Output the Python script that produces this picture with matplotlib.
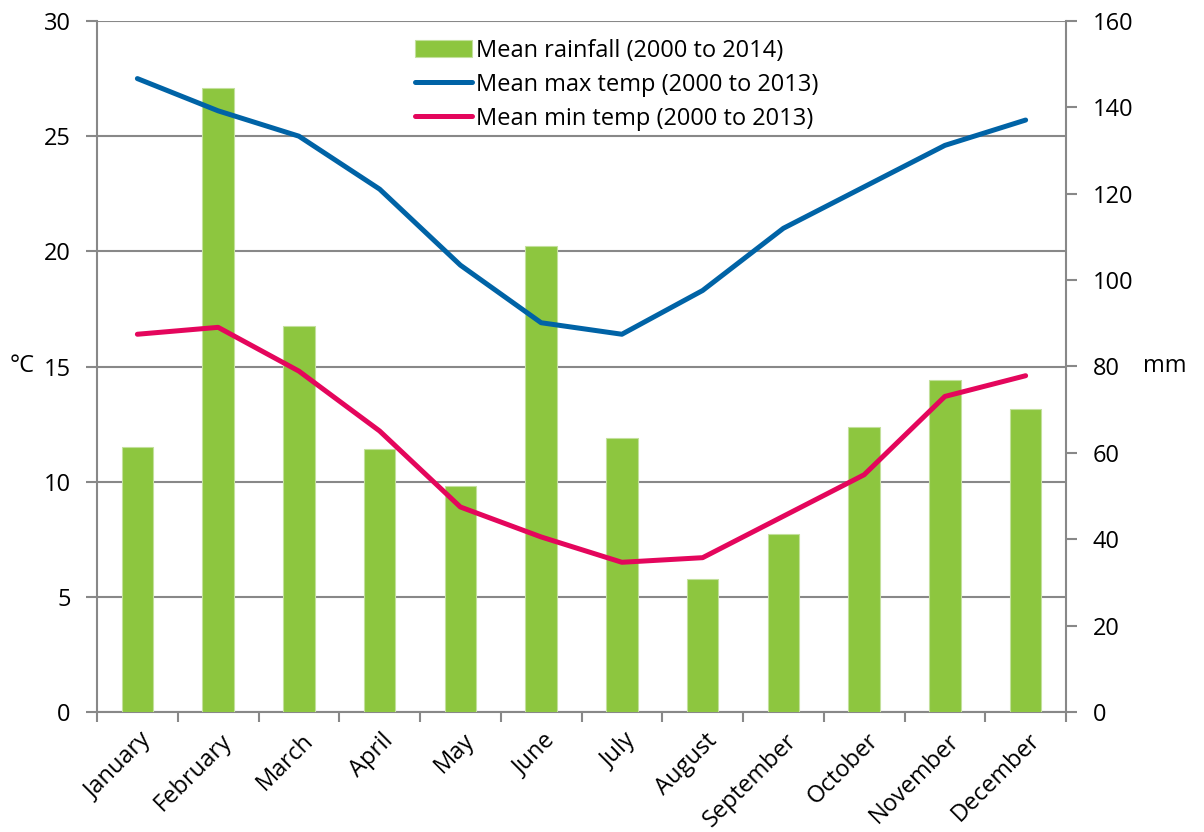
import matplotlib

matplotlib.use("Agg")

import matplotlib.pyplot as plt
import matplotlib.transforms as mtransforms

plt.rcParams["font.family"] = ["Open Sans", "DejaVu Sans"]

months = [
    "January", "February", "March", "April", "May", "June",
    "July", "August", "September", "October", "November", "December",
]
rainfall_mm = [61.3, 144.6, 89.3, 60.9, 52.4, 107.8, 63.5, 30.8, 41.2, 66.1, 76.9, 70.1]
max_temp_c = [27.5, 26.1, 25.0, 22.7, 19.4, 16.9, 16.4, 18.3, 21.0, 22.8, 24.6, 25.7]
min_temp_c = [16.4, 16.7, 14.8, 12.2, 8.9, 7.6, 6.5, 6.7, 8.5, 10.3, 13.7, 14.6]

GREEN = "#8DC63F"
BLUE = "#0063A6"
PINK = "#E4065C"
GREY = "#888888"

fig = plt.figure(figsize=(12.04, 8.32), dpi=100)
rect = [97 / 1204, 120 / 832, 969 / 1204, 691 / 832]

# bottom layer: temperature scale + gridlines
ax = fig.add_axes(rect)
# middle layer: rainfall bars on the mm scale
axr = ax.twinx()
# top layer: temperature lines
axt = ax.twinx()

x = list(range(len(months)))

bars = axr.bar(x, rainfall_mm, width=0.39, color=GREEN, edgecolor="#C3E09C", linewidth=0.8,
               label="Mean rainfall (2000 to 2014)")
(lmax,) = axt.plot(x, max_temp_c, color=BLUE, lw=3.6, solid_capstyle="round",
                   label="Mean max temp (2000 to 2013)")
(lmin,) = axt.plot(x, min_temp_c, color=PINK, lw=3.6, solid_capstyle="round",
                   label="Mean min temp (2000 to 2013)")

for a in (ax, axr, axt):
    a.set_xlim(-0.5, len(months) - 0.5)
    for s in a.spines.values():
        s.set_visible(False)

ax.set_ylim(0, 30)
axt.set_ylim(0, 30)
axr.set_ylim(0, 160)

ax.set_yticks(range(0, 31, 5))
ax.yaxis.grid(True, color=GREY, lw=1.5)
ax.set_axisbelow(True)
for side in ("left", "bottom"):
    ax.spines[side].set_visible(True)
    ax.spines[side].set_color(GREY)
    ax.spines[side].set_linewidth(1.5)
ax.tick_params(axis="y", colors=GREY, labelcolor="black", labelsize=17, length=8, width=1.5, pad=11)

axr.set_yticks(range(0, 161, 20))
axr.spines["right"].set_visible(True)
axr.spines["right"].set_color(GREY)
axr.spines["right"].set_linewidth(1.5)
axr.tick_params(axis="y", colors=GREY, labelcolor="black", labelsize=17, length=8, width=1.5, pad=11)

axt.set_yticks([])
axt.set_xticks([])
axr.set_xticks([])

# category boundaries get the tick marks, month names sit between them
ax.set_xticks([i - 0.5 for i in range(len(months) + 1)])
ax.set_xticklabels([])
ax.set_xticks(x, minor=True)
ax.set_xticklabels(months, minor=True, rotation=45, ha="right", va="top",
                   rotation_mode="anchor", fontsize=17)
ax.tick_params(axis="x", which="major", colors=GREY, length=7, width=1.5)
ax.tick_params(axis="x", which="minor", length=0, pad=12)
shift = mtransforms.ScaledTranslation(0.02, 0, fig.dpi_scale_trans)
for lbl in ax.get_xticklabels(minor=True):
    lbl.set_transform(lbl.get_transform() + shift)

fig.text(10 / 1204, 1 - 366 / 832, "°C", fontsize=17, va="center", ha="left")
fig.text(1143 / 1204, 1 - 366 / 832, "mm", fontsize=17, va="center", ha="left")

axt.legend(handles=[bars, lmax, lmin], loc="upper left", bbox_to_anchor=(0.31, 1.0),
           frameon=False, fontsize=17, handlelength=2.4, handletextpad=0.2,
           labelspacing=0.42, borderaxespad=0.35)

fig.savefig("out.png", dpi=100)
